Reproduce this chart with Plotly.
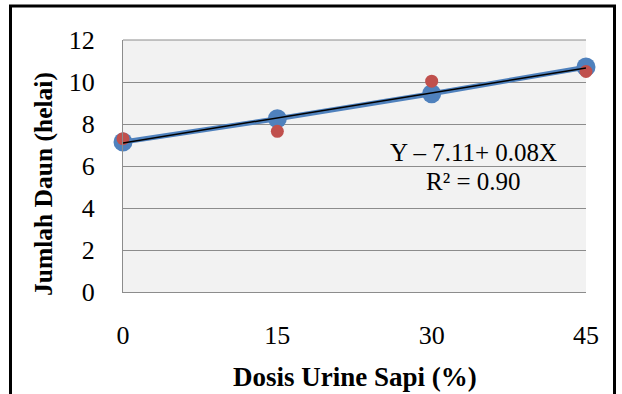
import numpy as np
import plotly.graph_objects as go

# Data
dosis = [0, 15, 30, 45]
blue_vals = [7.14, 8.25, 9.44, 10.71]
red_vals = [7.30, 7.65, 10.04, 10.50]
x_ticks = [0, 15, 30, 45]
y_ticks = [0, 2, 4, 6, 8, 10, 12]
eq_text = "Y – 7.11+ 0.08X"
r2_text = "R² = 0.90"
x_title = "Dosis Urine Sapi (%)"
y_title = "Jumlah Daun (helai)"

BLUE = "#4F81BD"
RED = "#C0504D"
FONT = "Liberation Serif"

W, H = 622, 394
L, R, T, B = 123, 36, 40, 102
pw, ph = W - L - R, H - T - B

def px(xp):
    return (xp - L) / pw

def py(yp):
    return (H - B - yp) / ph

coef = np.polyfit(dosis, blue_vals, 1)
fit_x = [dosis[0], dosis[-1]]
fit_y = list(np.polyval(coef, fit_x))

fig = go.Figure()
fig.add_trace(go.Scatter(x=dosis, y=blue_vals, mode="lines+markers",
                         line=dict(color=BLUE, width=5),
                         marker=dict(color=BLUE, size=19),
                         cliponaxis=False, showlegend=False))
fig.add_trace(go.Scatter(x=dosis, y=red_vals, mode="markers",
                         marker=dict(color=RED, size=13),
                         cliponaxis=False, showlegend=False))
fig.add_trace(go.Scatter(x=fit_x, y=fit_y, mode="lines",
                         line=dict(color="black", width=1.5),
                         cliponaxis=False, showlegend=False))

fig.update_layout(
    width=W, height=H,
    margin=dict(l=L, r=R, t=T, b=B),
    paper_bgcolor="white",
    plot_bgcolor="#F2F2F2",
    font=dict(family=FONT, size=26, color="black"),
    xaxis=dict(range=[0, 45], tickvals=x_ticks, showgrid=False, zeroline=False,
               showline=True, linecolor="#8C8C8C", linewidth=1,
               ticks="outside", ticklen=20, tickcolor="rgba(0,0,0,0)",
               tickfont=dict(family=FONT, size=26, color="black")),
    yaxis=dict(range=[0, 12], tickvals=y_ticks, showgrid=True, gridcolor="#8C8C8C",
               gridwidth=1, zeroline=False,
               showline=True, linecolor="#8C8C8C", linewidth=1,
               ticks="outside", ticklen=22, tickcolor="rgba(0,0,0,0)",
               tickfont=dict(family=FONT, size=26, color="black")),
    annotations=[
        dict(text=eq_text, xref="paper", yref="paper", x=px(473), y=py(152),
             xanchor="center", yanchor="middle", showarrow=False,
             font=dict(family=FONT, size=25)),
        dict(text=r2_text, xref="paper", yref="paper", x=px(473), y=py(181),
             xanchor="center", yanchor="middle", showarrow=False,
             font=dict(family=FONT, size=25)),
        dict(text="<b>" + x_title + "</b>", xref="paper", yref="paper", x=px(355), y=py(377),
             xanchor="center", yanchor="middle", showarrow=False,
             font=dict(family=FONT, size=27)),
        dict(text="<b>" + y_title + "</b>", xref="paper", yref="paper", x=px(43), y=py(184),
             xanchor="center", yanchor="middle", showarrow=False, textangle=-90,
             font=dict(family=FONT, size=25.5)),
    ],
    shapes=[
        dict(type="line", xref="paper", yref="paper", x0=0, x1=1, y0=1, y1=1,
             line=dict(color="#8C8C8C", width=1), layer="below"),
        dict(type="line", xref="paper", yref="paper", x0=px(10.5), x1=px(10.5), y0=py(5), y1=py(420),
             line=dict(color="black", width=3)),
        dict(type="line", xref="paper", yref="paper", x0=px(9), x1=px(616), y0=py(6), y1=py(6),
             line=dict(color="black", width=3)),
        dict(type="line", xref="paper", yref="paper", x0=px(614.5), x1=px(614.5), y0=py(5), y1=py(420),
             line=dict(color="black", width=3)),
    ],
)

fig.write_html("out.html")
